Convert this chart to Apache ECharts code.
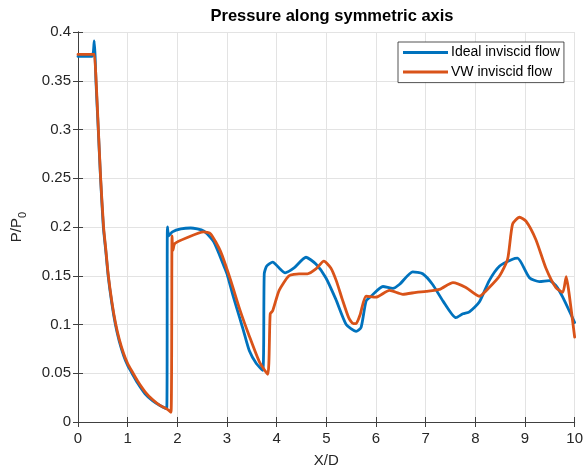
<!DOCTYPE html>
<html>
<head>
<meta charset="utf-8">
<script src="https://cdn.jsdelivr.net/npm/echarts@6/dist/echarts.min.js"></script>
<style>
  html, body { margin: 0; padding: 0; background: #fff; }
  #main { width: 586px; height: 474px; }
</style>
</head>
<body>
<div id="main"></div>
<script>
// values
var seriesNames = ['Ideal inviscid flow', 'VW inviscid flow'];

var idealX = [0, 0.28, 0.31, 0.327, 0.345, 0.361, 0.408, 0.454, 0.51, 0.56, 0.607, 0.68, 0.753, 0.83, 0.92, 1.0, 1.087, 1.2, 1.35, 1.5, 1.65, 1.787,
    1.80, 1.83, 1.9, 2.07, 2.27, 2.53, 2.73, 2.93, 3.0, 3.13, 3.26, 3.33, 3.45, 3.59, 3.72,
    3.75, 3.8, 3.92, 4.05, 4.17, 4.35, 4.59, 4.79, 4.99, 5.19, 5.4, 5.6, 5.7, 5.8, 5.9, 6.14, 6.34, 6.47, 6.74, 6.94, 7.14, 7.35, 7.61, 7.75, 7.88,
    8.08, 8.28, 8.49, 8.75, 8.85, 9.09, 9.29, 9.49, 9.62, 9.76, 10];
var idealY = [0.375, 0.375, 0.38, 0.391, 0.375, 0.35, 0.30, 0.25, 0.2, 0.175, 0.15, 0.122, 0.1, 0.083, 0.068, 0.058, 0.05, 0.04, 0.029, 0.022, 0.017, 0.0137,
    0.2, 0.191, 0.195, 0.198, 0.199, 0.196, 0.185, 0.161, 0.152, 0.128, 0.106, 0.094, 0.073, 0.06, 0.053,
    0.152, 0.16, 0.164, 0.158, 0.153, 0.158, 0.169, 0.162, 0.148, 0.126, 0.1, 0.093, 0.097, 0.124, 0.129, 0.139, 0.137, 0.141, 0.154, 0.152, 0.141, 0.124, 0.107, 0.111, 0.113,
    0.123, 0.145, 0.160, 0.167, 0.168, 0.148, 0.144, 0.145, 0.14, 0.128, 0.102];

var vwX = [0, 0.31, 0.33, 0.365, 0.41, 0.456, 0.515, 0.56, 0.607, 0.68, 0.753, 0.83, 0.92, 1.0, 1.087, 1.2, 1.35, 1.5, 1.65, 1.80, 1.873,
    1.893, 1.91, 1.95, 2.19, 2.53, 2.67, 2.87, 3.07, 3.26, 3.45, 3.65, 3.82,
    3.87, 3.92, 4.05, 4.25, 4.45, 4.62, 4.79, 4.95, 5.09, 5.2, 5.32, 5.45, 5.54, 5.6, 5.68, 5.8, 6.0, 6.27, 6.54, 6.81, 7.01, 7.28, 7.55, 7.81,
    8.08, 8.28, 8.49, 8.65, 8.75, 8.89, 9.02, 9.22, 9.42, 9.62, 9.76, 9.83, 9.89, 10];
var vwY = [0.377, 0.377, 0.377, 0.35, 0.30, 0.25, 0.2, 0.177, 0.152, 0.124, 0.102, 0.085, 0.07, 0.06, 0.052, 0.042, 0.031, 0.023, 0.017, 0.013, 0.010,
    0.191, 0.176, 0.183, 0.189, 0.195, 0.193, 0.175, 0.146, 0.115, 0.088, 0.062, 0.049,
    0.111, 0.114, 0.135, 0.150, 0.152, 0.152, 0.157, 0.165, 0.158, 0.145, 0.126, 0.107, 0.101, 0.101, 0.11, 0.129, 0.128, 0.135, 0.131, 0.133, 0.134, 0.136, 0.143, 0.138,
    0.129, 0.138, 0.150, 0.167, 0.203, 0.210, 0.206, 0.187, 0.158, 0.138, 0.133, 0.149, 0.131, 0.087];

function pairs(xs, ys) {
    var out = [];
    for (var i = 0; i < xs.length; ++i) {
        out.push([xs[i], ys[i]]);
    }
    return out;
}

var font = 'Liberation Sans, Arial, Helvetica, sans-serif';
var axisColor = '#404040';
var textColor = '#262626';

var myChart = echarts.init(document.getElementById('main'), null, { renderer: 'canvas' });

var hiddenAxis = {
    type: 'value',
    axisLine: { show: true, lineStyle: { color: axisColor, width: 1 } },
    axisTick: { show: true, inside: true, length: 5, lineStyle: { color: axisColor } },
    axisLabel: { show: false },
    splitLine: { show: false }
};

var option = {
    animation: false,
    backgroundColor: '#fff',
    title: {
        text: 'Pressure along symmetric axis',
        left: 327,
        textAlign: 'center',
        top: 3,
        textStyle: { fontFamily: font, fontSize: 16.5, fontWeight: 'bold', color: '#000' }
    },
    legend: {
        data: seriesNames,
        orient: 'vertical',
        left: 398,
        top: 42,
        padding: [3.6, 4, 3.6, 5],
        itemGap: 5.4,
        itemWidth: 45,
        itemHeight: 3,
        icon: 'rect',
        backgroundColor: '#fff',
        borderColor: textColor,
        borderWidth: 0.8,
        borderRadius: 0,
        textStyle: { fontFamily: font, fontSize: 14, color: '#000', padding: [0, 0, 0, -2] }
    },
    grid: { left: 78, right: 10, top: 32, bottom: 52 },
    xAxis: [{
        type: 'value',
        min: 0,
        max: 10,
        interval: 1,
        position: 'bottom',
        name: 'X/D',
        nameLocation: 'middle',
        nameGap: 31,
        nameTextStyle: { fontFamily: font, fontSize: 15, color: textColor },
        axisLine: { show: true, lineStyle: { color: axisColor, width: 1 } },
        axisTick: { show: true, inside: true, length: 5, lineStyle: { color: axisColor } },
        axisLabel: { fontFamily: font, fontSize: 15, color: textColor, margin: 9 },
        splitLine: { show: true, lineStyle: { color: '#e3e3e3', width: 1 } }
    }, Object.assign({}, hiddenAxis, { min: 0, max: 10, interval: 1, position: 'top' })],
    yAxis: [{
        type: 'value',
        min: 0,
        max: 0.4,
        interval: 0.05,
        position: 'left',
        name: '{a|P/P}{b|0}',
        nameLocation: 'middle',
        nameGap: 50,
        nameTextStyle: {
            fontFamily: font, color: textColor,
            rich: {
                a: { fontFamily: font, fontSize: 15, lineHeight: 22, color: textColor },
                b: { fontFamily: font, fontSize: 11, lineHeight: 11, verticalAlign: 'bottom', color: textColor }
            }
        },
        axisLine: { show: true, lineStyle: { color: axisColor, width: 1 } },
        axisTick: { show: true, inside: true, length: 5, lineStyle: { color: axisColor } },
        axisLabel: { fontFamily: font, fontSize: 15, color: textColor, margin: 7 },
        splitLine: { show: true, lineStyle: { color: '#e3e3e3', width: 1 } }
    }, Object.assign({}, hiddenAxis, { min: 0, max: 0.4, interval: 0.05, position: 'right' })],
    series: [{
        name: seriesNames[0],
        type: 'line',
        xAxisIndex: 0,
        yAxisIndex: 0,
        data: pairs(idealX, idealY),
        showSymbol: false,
        symbol: 'none',
        smooth: 0.2,
        color: '#0072BD',
        lineStyle: { color: '#0072BD', width: 2.8, join: 'round', cap: 'round' },
        itemStyle: { color: '#0072BD' }
    }, {
        name: seriesNames[1],
        type: 'line',
        xAxisIndex: 0,
        yAxisIndex: 0,
        data: pairs(vwX, vwY),
        showSymbol: false,
        symbol: 'none',
        smooth: 0.2,
        color: '#D95319',
        lineStyle: { color: '#D95319', width: 2.8, join: 'round', cap: 'round' },
        itemStyle: { color: '#D95319' }
    }]
};

myChart.setOption(option);
</script>
</body>
</html>
